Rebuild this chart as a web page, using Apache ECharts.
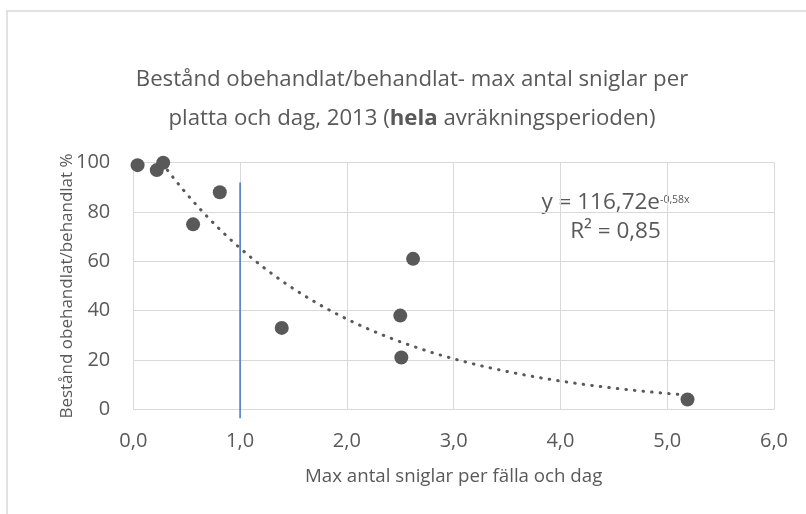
<!DOCTYPE html>
<html>
<head>
<meta charset="utf-8">
<script src="https://cdn.jsdelivr.net/npm/echarts@6/dist/echarts.min.js"></script>
<style>html,body{margin:0;padding:0;background:#fff;}#c{width:806px;height:514px;}</style>
</head>
<body>
<div id="c"></div>
<script>
// Data
const xValues = [0.04, 0.22, 0.28, 0.56, 0.81, 1.39, 2.50, 2.51, 2.62, 5.19];
const yValues = [99, 97, 100, 75, 88, 33, 38, 21, 61, 4];
const xTicks = [0, 1, 2, 3, 4, 5, 6];
const yTicks = [0, 20, 40, 60, 80, 100];
// Exponential trendline shown in the chart: y = 116,72 e^(-0,58x)
const trendA = 116.72;
const trendB = -0.58;
const trendR2 = '0,85';
// Vertical reference line at x = 1,0
const refLineX = [1, 1];
const refLineY = [92, -3.6];

const FONT = 'Open Sans';
const GREY = '#595959';

const scatterData = xValues.map((x, i) => [x, yValues[i]]);
const xMin = Math.min(...xValues), xMax = Math.max(...xValues);
const trendData = [];
const steps = 120;
for (let i = 0; i <= steps; i++) {
  const x = xMin + (xMax - xMin) * i / steps;
  trendData.push([x, trendA * Math.exp(trendB * x)]);
}
const refData = refLineX.map((x, i) => [x, refLineY[i]]);

const chart = echarts.init(document.getElementById('c'));
chart.setOption({
  animation: false,
  backgroundColor: '#fff',
  title: {
    text: 'Bestånd obehandlat/behandlat- max antal sniglar per\nplatta och dag, 2013 ({b|hela} avräkningsperioden)',
    left: 407, top: 55, textAlign: 'center',
    textStyle: {
      fontFamily: FONT, fontSize: 22.2, fontWeight: 'normal', color: GREY, lineHeight: 39,
      rich: { b: { fontFamily: FONT, fontSize: 22.2, fontWeight: 'bold', color: GREY, lineHeight: 39 } }
    }
  },
  grid: { left: 133.3, right: 32, top: 162.7, bottom: 104.7, containLabel: false },
  xAxis: {
    type: 'value', min: xTicks[0], max: xTicks[xTicks.length - 1], interval: 1,
    name: 'Max antal sniglar per fälla och dag', nameLocation: 'middle', nameGap: 58,
    nameMoveOverlap: false,
    nameTextStyle: { fontFamily: FONT, fontSize: 18.7, color: GREY },
    axisLine: { show: true, lineStyle: { color: '#d9d9d9', width: 1 } },
    axisTick: { show: false },
    axisLabel: { fontFamily: FONT, fontSize: 20, color: GREY, margin: 22,
      formatter: v => v.toFixed(1).replace('.', ',') },
    splitLine: { show: true, lineStyle: { color: '#d9d9d9', width: 1 } }
  },
  yAxis: {
    type: 'value', min: yTicks[0], max: yTicks[yTicks.length - 1], interval: 20,
    name: 'Bestånd obehandlat/behandlat %', nameLocation: 'middle', nameGap: 58, nameRotate: 90,
    nameMoveOverlap: false,
    nameTextStyle: { fontFamily: FONT, fontSize: 17, color: GREY },
    axisLine: { show: true, lineStyle: { color: '#d9d9d9', width: 1 } },
    axisTick: { show: false },
    axisLabel: { fontFamily: FONT, fontSize: 20, color: GREY, margin: 23 },
    splitLine: { show: true, lineStyle: { color: '#d9d9d9', width: 1 } }
  },
  series: [
    {
      type: 'line', data: trendData, showSymbol: false, symbol: 'none', z: 2,
      lineStyle: { color: GREY, width: 3, type: [0.5, 8.1], cap: 'round' }, silent: true
    },
    {
      type: 'line', data: refData, showSymbol: false, symbol: 'none', clip: false, z: 3,
      lineStyle: { color: '#4472C4', width: 1.5 }, silent: true
    },
    {
      type: 'scatter', data: scatterData, symbol: 'circle', symbolSize: 14, z: 4,
      itemStyle: { color: GREY, opacity: 1 }
    }
  ],
  graphic: [
    { type: 'rect', shape: { x: 7, y: 11, width: 900, height: 600 },
      style: { fill: 'none', stroke: '#d9d9d9', lineWidth: 1.5 }, silent: true, z: -10 },
    { type: 'text', x: 615.5, y: 191,
      style: { text: 'y = 116,72e{s|-0,58x}', fontFamily: FONT, fontSize: 22.5, fill: GREY, align: 'center',
        rich: { s: { fontFamily: FONT, fontSize: 10.5, fill: GREY, verticalAlign: 'top', padding: [4,0,0,0] } } } },
    { type: 'text', x: 615.5, y: 220,
      style: { text: 'R² = ' + trendR2, fontFamily: FONT, fontSize: 22.5, fill: GREY, align: 'center' } }
  ]
});
</script>
</body>
</html>
